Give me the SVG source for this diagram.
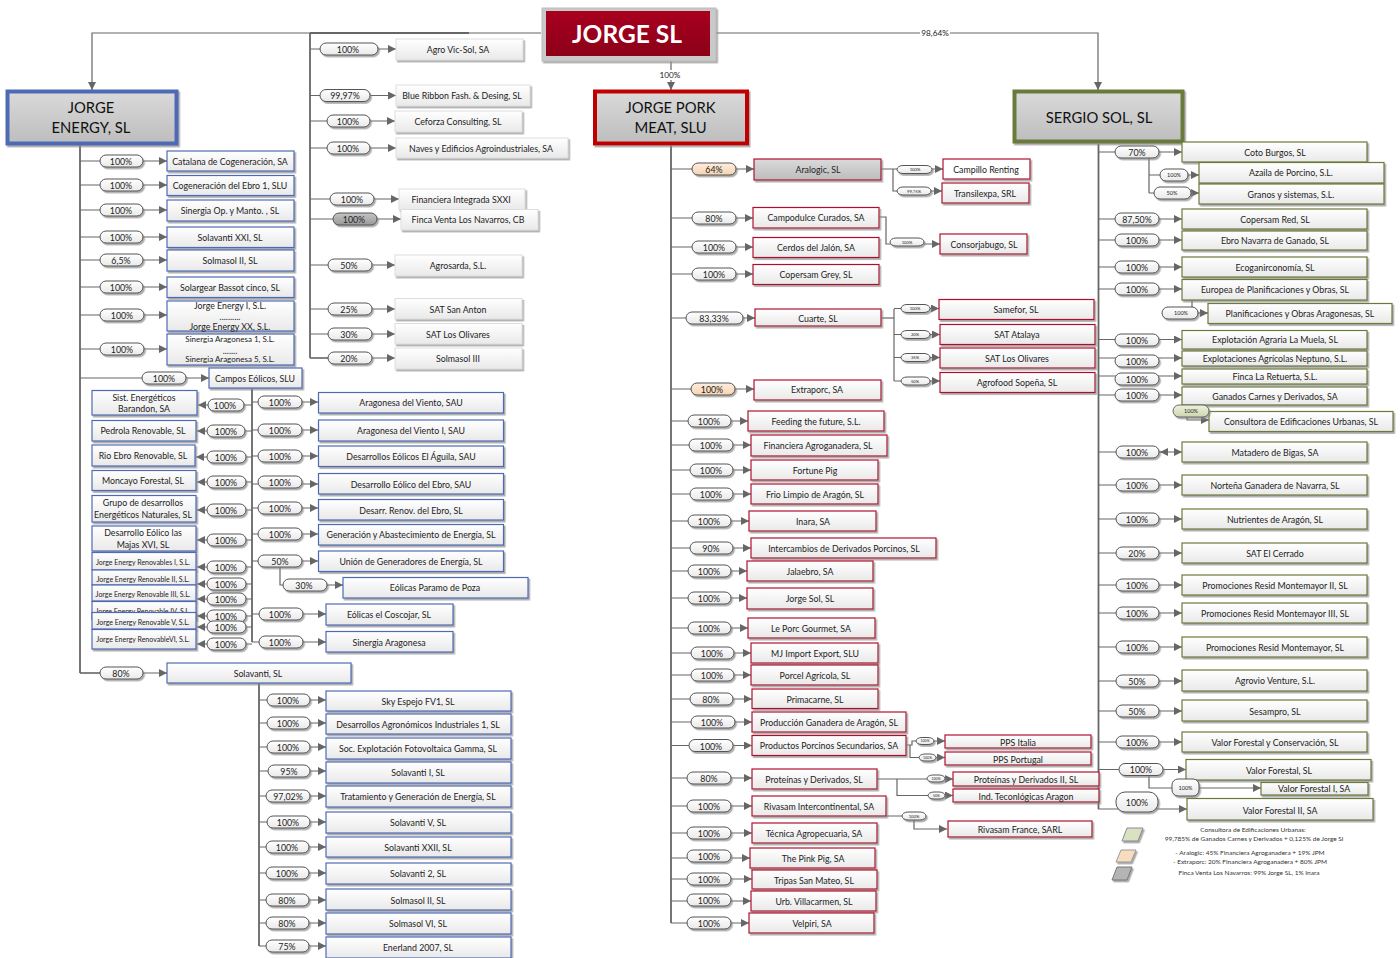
<svg xmlns="http://www.w3.org/2000/svg" width="1400" height="958" viewBox="0 0 1400 958">
<style>
text{font-family:Lato,"Liberation Sans",sans-serif;fill:#222;text-anchor:middle;dominant-baseline:central}
.t{font-size:8.8px}
.k{font-size:4.2px}
.m{font-size:7px}
.v{font-size:8.200px}
.l{font-size:6.500px;fill:#333}
.h{font-size:14.800px;fill:#111}
rect,polygon{filter:url(#s)}
.p{fill:url(#w);stroke:#555;stroke-width:1;rx:6px}
.pk{fill:url(#pe);stroke:#555;stroke-width:1;rx:6px}
.pg{fill:url(#gr);stroke:#555;stroke-width:1;rx:6px}
.po{fill:url(#ol);stroke:#666;stroke-width:1;rx:6px}
.b{fill:url(#w);stroke:#4f6bb5;stroke-width:1.2}
.r{fill:url(#w);stroke:#b0102f;stroke-width:1.2}
.o{fill:url(#w);stroke:#6b7a3a;stroke-width:1.2}
.n{fill:url(#w);stroke:#ddd;stroke-width:1}
.hd{fill:url(#gr2);stroke-width:4}
#c path{fill:none;stroke:#666;stroke-width:1.2}
#c .a{marker-end:url(#ar)}
#c .f{stroke-width:1.8}
</style>
<defs>
<linearGradient id="w" x1="0" y1="0" x2="0" y2="1"><stop offset="0" stop-color="#fff"/><stop offset="1" stop-color="#e9e9e9"/></linearGradient>
<linearGradient id="gr" x1="0" y1="0" x2="0" y2="1"><stop offset="0" stop-color="#c4c4c4"/><stop offset="1" stop-color="#9a9a9a"/></linearGradient>
<linearGradient id="gr2" x1="0" y1="0" x2="0" y2="1"><stop offset="0" stop-color="#dadada"/><stop offset="1" stop-color="#bdbdbd"/></linearGradient>
<linearGradient id="pe" x1="0" y1="0" x2="0" y2="1"><stop offset="0" stop-color="#fdeee0"/><stop offset="1" stop-color="#f7d3b0"/></linearGradient>
<linearGradient id="ol" x1="0" y1="0" x2="0" y2="1"><stop offset="0" stop-color="#eef2df"/><stop offset="1" stop-color="#cdd6ae"/></linearGradient>
<linearGradient id="rd" x1="0" y1="0" x2="0" y2="1"><stop offset="0" stop-color="#a8001f"/><stop offset="1" stop-color="#8c0018"/></linearGradient>
<filter id="s" x="-10%" y="-20%" width="125%" height="150%"><feDropShadow dx="1.5" dy="1.8" stdDeviation="0.7" flood-color="#888" flood-opacity=".7"/></filter>
<marker id="ar" markerUnits="userSpaceOnUse" markerWidth="9" markerHeight="9" refX="8" refY="4" orient="auto"><path d="M0 0L8 4L0 8z" fill="#666"/></marker>
</defs>

<g id="c">
<path class="a" d="M541 33H92V90"/>
<path class="f" d="M310 33H469"/>
<path class="a" d="M716 33H1098V90"/>
<path class="a" d="M671 61V90"/>
<path class="f" d="M80 145V673"/><path d="M80 673H100"/>
<path class="f" d="M310 33V358"/><path d="M310 358H328"/>
<path class="f" d="M671 144V923"/>
<path class="f" d="M1098.500 144V809"/>
<path class="f" d="M252 388V642"/>
<path class="f" d="M259 683V946"/>
<path class="a" d="M80 161H167"/><path class="a" d="M80 185H167"/><path class="a" d="M80 210H167"/><path class="a" d="M80 237H167"/><path class="a" d="M80 260H167"/><path class="a" d="M80 287H167"/><path class="a" d="M80 315H167"/><path class="a" d="M80 349H167"/><path class="a" d="M80 378H209"/><path class="a" d="M80 673H167"/>
<path class="a" d="M310 49H396"/><path class="a" d="M310 95.500H396"/><path class="a" d="M310 121H395"/><path class="a" d="M310 148H396"/><path class="a" d="M310 199H399"/><path class="a" d="M310 219H401"/><path class="a" d="M310 265H395"/><path class="a" d="M310 309H395"/><path class="a" d="M310 334H395"/><path class="a" d="M310 358H395"/>
<path class="a" d="M252 405H198"/><path class="a" d="M252 431H197"/><path class="a" d="M252 457H196"/><path class="a" d="M252 482H197"/><path class="a" d="M252 510H197"/><path class="a" d="M252 540H197"/><path class="a" d="M252 567H197"/><path class="a" d="M252 584H197"/><path class="a" d="M252 599H197"/><path class="a" d="M252 616H197"/><path class="a" d="M252 627H197"/><path class="a" d="M252 644H197"/>
<path class="a" d="M252 402H318"/><path class="a" d="M252 430H318"/><path class="a" d="M252 456H318"/><path class="a" d="M252 484H318"/><path class="a" d="M252 508H318"/><path class="a" d="M252 534H318"/><path class="a" d="M252 561H318"/><path class="a" d="M280 567V585H343"/><path class="a" d="M252 614H326"/><path class="a" d="M252 642H326"/>
<path class="a" d="M259 700H326"/><path class="a" d="M259 723H326"/><path class="a" d="M259 747H326"/><path class="a" d="M259 771H326"/><path class="a" d="M259 796H326"/><path class="a" d="M259 822H326"/><path class="a" d="M259 847H326"/><path class="a" d="M259 873H326"/><path class="a" d="M259 900H326"/><path class="a" d="M259 923H326"/><path class="a" d="M259 946H326"/>
<path class="a" d="M671 169H754"/><path class="a" d="M881 169H943"/><path class="a" d="M893 169V191H942"/>
<path class="a" d="M671 218H753"/><path class="a" d="M879 217H886V244H940"/><path class="a" d="M671 247H753"/><path class="a" d="M671 274H753"/>
<path class="a" d="M671 318H755"/><path d="M881 318H894"/><path d="M894 309V381"/><path class="a" d="M894 308.500H939"/><path class="a" d="M894 334.500H940"/><path class="a" d="M894 357.500H940"/><path class="a" d="M894 381H940"/>
<path class="a" d="M671 389H754"/><path class="a" d="M671 421H748"/><path class="a" d="M671 445H751"/><path class="a" d="M671 470H751"/><path class="a" d="M671 494H751"/><path class="a" d="M671 521H749"/><path class="a" d="M671 548H751"/><path class="a" d="M671 571H747"/><path class="a" d="M671 598H747"/><path class="a" d="M671 628H748"/><path class="a" d="M671 653H751"/><path class="a" d="M671 675H751"/><path class="a" d="M671 699H752"/><path class="a" d="M671 722H752"/><path class="a" d="M671 745.500H752"/>
<path class="a" d="M906 745H912V741H945"/><path class="a" d="M910 745V757.500H945"/>
<path class="a" d="M671 778H752"/><path class="a" d="M877 779H953"/><path class="a" d="M897 779V795.500H953"/>
<path class="a" d="M671 806H752"/><path class="a" d="M886 816H914V829H947"/>
<path class="a" d="M671 833H752"/><path class="a" d="M671 858H750"/><path class="a" d="M671 879H752"/><path class="a" d="M671 901H751"/><path class="a" d="M671 923H749"/>
<path class="a" d="M1098 152H1182"/><path d="M1149 158V193"/><path class="a" d="M1149 175H1199"/><path class="a" d="M1149 193H1199"/>
<path class="a" d="M1098 219H1182"/><path class="a" d="M1098 240H1182"/><path class="a" d="M1098 267H1182"/><path class="a" d="M1098 289H1182"/>
<path d="M1192 300V307"/><path class="a" d="M1190 313H1208"/>
<path class="a" d="M1098 339.500H1182"/><path class="a" d="M1098 358H1182"/><path class="a" d="M1098 376H1182"/><path class="a" d="M1098 395H1182"/>
<path class="a" d="M1187 416V420H1209"/>
<path class="a" d="M1098 452H1182"/><path class="a" d="M1168 452H1160"/>
<path class="a" d="M1098 485H1182"/><path class="a" d="M1098 519H1182"/><path class="a" d="M1098 553H1182"/><path class="a" d="M1098 585H1182"/><path class="a" d="M1098 613H1182"/><path class="a" d="M1098 647H1182"/><path class="a" d="M1098 681H1182"/><path class="a" d="M1098 711H1182"/><path class="a" d="M1098 742H1182"/>
<path class="a" d="M1098 769.500H1186"/><path class="a" d="M1149 775V788H1261"/><path class="a" d="M1098 809H1187"/>
</g>
<rect x="920" y="28" width="30" height="10" fill="#fff" style="filter:none"/>
<text class="v" x="935" y="33">98,64%</text>
<rect x="659" y="70" width="23" height="10" fill="#fff" style="filter:none"/>
<text class="v" x="670" y="75">100%</text>

<g id="jorge-sl"><rect x="542" y="8" width="174" height="53" fill="#c9c9c9" stroke="#bbb"/><rect x="546" y="11" width="164" height="45" fill="url(#rd)" style="filter:none"/><text x="627" y="33" style="font-size:24.500px;font-weight:700;fill:#fff">JORGE SL</text></g>
<g id="jorge-energy"><rect class="hd" x="7.500" y="91.500" width="169" height="52" stroke="#4f6bb5"/><text class="h" x="91" y="107">JORGE</text><text class="h" x="91" y="127">ENERGY, SL</text></g>
<g id="jorge-pork"><rect class="hd" x="595" y="91.500" width="152" height="52" stroke="#c00000"/><text class="h" x="670.500" y="107">JORGE PORK</text><text class="h" x="670.500" y="127">MEAT, SLU</text></g>
<g id="sergio-sol"><rect class="hd" x="1014.500" y="91.500" width="168" height="50" stroke="#6b7a3a"/><text class="h" x="1099" y="117">SERGIO SOL, SL</text></g>

<g id="e1"><rect class="p" x="100" y="155" width="43" height="12"/><text class="t" x="121" y="161">100%</text><rect class="b" x="167" y="151" width="127" height="20"/><text class="t" x="230" y="161">Catalana de Cogeneración, SA</text></g>
<g id="e2"><rect class="p" x="100" y="179" width="43" height="12"/><text class="t" x="121" y="185">100%</text><rect class="b" x="167" y="175.500" width="127" height="20"/><text class="t" x="230" y="185">Cogeneración del Ebro 1, SLU</text></g>
<g id="e3"><rect class="p" x="100" y="204" width="43" height="12"/><text class="t" x="121" y="210">100%</text><rect class="b" x="167" y="200" width="127" height="21"/><text class="t" x="230" y="210">Sinergia Op. y Manto. , SL</text></g>
<g id="e4"><rect class="p" x="100" y="231" width="43" height="12"/><text class="t" x="121" y="237">100%</text><rect class="b" x="167" y="227" width="127" height="20.500"/><text class="t" x="230" y="237">Solavanti XXI, SL</text></g>
<g id="e5"><rect class="p" x="100" y="254" width="43" height="12"/><text class="t" x="121" y="260">6,5%</text><rect class="b" x="167" y="250" width="127" height="21"/><text class="t" x="230" y="260">Solmasol II, SL</text></g>
<g id="e6"><rect class="p" x="100" y="281" width="43" height="12"/><text class="t" x="121" y="287">100%</text><rect class="b" x="167" y="277" width="127" height="20.500"/><text class="t" x="230" y="287">Solargear Bassot cinco, SL</text></g>
<g id="e7"><rect class="p" x="100" y="309" width="44" height="12"/><text class="t" x="122" y="315">100%</text><rect class="b" x="167" y="301" width="127" height="30"/><text class="t" x="230" y="305">Jorge Energy I, S.L.</text><text class="t" x="230" y="316">..........</text><text class="t" x="230" y="326">Jorge Energy XX, S.L.</text></g>
<g id="e8"><rect class="p" x="100" y="343" width="44" height="12"/><text class="t" x="122" y="349">100%</text><rect class="b" x="167" y="334" width="127" height="31"/><text class="t" style="font-size:8px" x="230" y="339">Sinergia Aragonesa 1, S.L.</text><text class="t" x="230" y="350">.......</text><text class="t" style="font-size:8px" x="230" y="359">Sinergia Aragonesa 5, S.L.</text></g>
<g id="campos"><rect class="p" x="142" y="372" width="44" height="12"/><text class="t" x="164" y="378">100%</text><rect class="b" x="209" y="368" width="93" height="20"/><text class="t" x="255" y="378">Campos Eólicos, SLU</text></g>
<g id="solavanti"><rect class="p" x="100" y="667" width="43" height="12"/><text class="t" x="121" y="673">80%</text><rect class="b" x="167" y="663" width="184" height="20"/><text class="t" x="258" y="673">Solavanti, SL</text></g>

<g id="l1"><rect class="b" x="92" y="390.500" width="105" height="24.500"/><text class="t" x="144" y="397">Sist. Energéticos</text><text class="t" x="144" y="408">Barandon, SA</text><rect class="p" x="208" y="399" width="36" height="12"/><text class="t" x="225" y="405">100%</text></g>
<g id="l2"><rect class="b" x="92" y="420.500" width="104" height="20.500"/><text class="t" x="143" y="430">Pedrola Renovable, SL</text><rect class="p" x="207" y="425" width="38" height="12"/><text class="t" x="226" y="431">100%</text></g>
<g id="l3"><rect class="b" x="92" y="445" width="103" height="21"/><text class="t" x="143" y="455">Rio Ebro Renovable, SL</text><rect class="p" x="207" y="451" width="39" height="12"/><text class="t" x="226" y="457">100%</text></g>
<g id="l4"><rect class="b" x="92" y="470.500" width="104" height="20"/><text class="t" x="143" y="480">Moncayo Forestal, SL</text><rect class="p" x="207" y="476" width="39" height="12"/><text class="t" x="226" y="482">100%</text></g>
<g id="l5"><rect class="b" x="92" y="495.500" width="104" height="26.500"/><text class="t" x="143" y="502">Grupo de desarrollos</text><text class="t" x="143" y="514">Energéticos Naturales, SL</text><rect class="p" x="207" y="504" width="39" height="12"/><text class="t" x="226" y="510">100%</text></g>
<g id="l6"><rect class="b" x="92" y="526" width="104" height="25"/><text class="t" x="143" y="532">Desarrollo Eólico las</text><text class="t" x="143" y="544">Majas XVI, SL</text><rect class="p" x="207" y="534" width="39" height="12"/><text class="t" x="226" y="540">100%</text></g>
<g id="l7"><rect class="b" x="92" y="552.500" width="104" height="17.500"/><text class="m" x="143" y="562">Jorge Energy Renovables I, S.L.</text><rect class="p" x="207" y="561" width="39" height="12"/><text class="t" x="226" y="567">100%</text></g>
<g id="l8"><rect class="b" x="92" y="570" width="104" height="15"/><text class="m" x="143" y="579">Jorge Energy Renovable II, S.L.</text></g>
<g id="l9"><rect class="b" x="92" y="585" width="104" height="16"/><text class="m" x="143" y="594">Jorge Energy Renovable III, S.L.</text></g>
<g id="l10"><rect class="b" x="92" y="601.500" width="104" height="18"/><text class="m" x="143" y="611">Jorge Energy Renovable IV, S.L.</text></g>
<g id="l11"><rect class="b" x="92" y="612.500" width="104" height="16.500"/><text class="m" x="143" y="622">Jorge Energy Renovable V, S.L.</text></g>
<g id="l12"><rect class="b" x="92" y="629.500" width="104" height="19.500"/><text class="m" x="143" y="639">Jorge Energy RenovableVI, S.L.</text></g>
<g id="lp"><rect class="p" x="207" y="578" width="39" height="12"/><text class="t" x="226" y="584">100%</text><rect class="p" x="207" y="593" width="39" height="12"/><text class="t" x="226" y="599">100%</text><rect class="p" x="207" y="610" width="39" height="12"/><text class="t" x="226" y="616">100%</text><rect class="p" x="207" y="621" width="39" height="12"/><text class="t" x="226" y="627">100%</text><rect class="p" x="207" y="638" width="39" height="12"/><text class="t" x="226" y="644">100%</text></g>

<g id="a1"><rect class="p" x="258" y="396" width="44" height="12"/><text class="t" x="280" y="402">100%</text><rect class="b" x="318.500" y="392.500" width="185" height="20.500"/><text class="t" x="411" y="402">Aragonesa del Viento, SAU</text></g>
<g id="a2"><rect class="p" x="258" y="424" width="44" height="12"/><text class="t" x="280" y="430">100%</text><rect class="b" x="318.500" y="420" width="185" height="21"/><text class="t" x="411" y="430">Aragonesa del Viento I, SAU</text></g>
<g id="a3"><rect class="p" x="258" y="450" width="44" height="12"/><text class="t" x="280" y="456">100%</text><rect class="b" x="318.500" y="446" width="185" height="20.500"/><text class="t" x="411" y="456">Desarrollos Eólicos El Águila, SAU</text></g>
<g id="a4"><rect class="p" x="258" y="476" width="44" height="12"/><text class="t" x="280" y="482">100%</text><rect class="b" x="318.500" y="473.500" width="185" height="20.500"/><text class="t" x="411" y="484">Desarrollo Eólico del Ebro, SAU</text></g>
<g id="a5"><rect class="p" x="258" y="502" width="44" height="12"/><text class="t" x="280" y="508">100%</text><rect class="b" x="318.500" y="499.500" width="185" height="20.500"/><text class="t" x="411" y="510">Desarr. Renov. del Ebro, SL</text></g>
<g id="a6"><rect class="p" x="258" y="528" width="44" height="12"/><text class="t" x="280" y="534">100%</text><rect class="b" x="318.500" y="524.500" width="185" height="20.500"/><text class="t" x="411" y="534">Generación y Abastecimiento de Energía, SL</text></g>
<g id="a7"><rect class="p" x="258" y="555" width="44" height="12"/><text class="t" x="280" y="561">50%</text><rect class="b" x="318.500" y="551" width="185" height="20.500"/><text class="t" x="411" y="561">Unión de Generadores de Energía, SL</text></g>
<g id="a8"><rect class="p" x="283" y="579" width="44" height="12"/><text class="t" x="304" y="585">30%</text><rect class="b" x="343" y="577.500" width="185" height="20.500"/><text class="t" x="435" y="587">Eólicas Paramo de Poza</text></g>
<g id="a9"><rect class="p" x="259" y="608" width="44" height="12"/><text class="t" x="280" y="614">100%</text><rect class="b" x="326" y="604" width="127" height="21"/><text class="t" x="389" y="614">Eólicas el Coscojar, SL</text></g>
<g id="a10"><rect class="p" x="259" y="636" width="44" height="12"/><text class="t" x="280" y="642">100%</text><rect class="b" x="326" y="631.500" width="127" height="20.500"/><text class="t" x="389" y="642">Sinergia Aragonesa</text></g>

<g id="s1"><rect class="p" x="267" y="694" width="43" height="12"/><text class="t" x="288" y="700">100%</text><rect class="b" x="326" y="691" width="185" height="20"/><text class="t" x="418" y="701">Sky Espejo FV1, SL</text></g>
<g id="s2"><rect class="p" x="267" y="717" width="43" height="12"/><text class="t" x="288" y="723">100%</text><rect class="b" x="326" y="714" width="185" height="20"/><text class="t" x="418" y="724">Desarrollos Agronómicos Industriales 1, SL</text></g>
<g id="s3"><rect class="p" x="267" y="741" width="43" height="12"/><text class="t" x="288" y="747">100%</text><rect class="b" x="326" y="738" width="185" height="21"/><text class="t" x="418" y="748">Soc. Explotación Fotovoltaica Gamma, SL</text></g>
<g id="s4"><rect class="p" x="268" y="765" width="42" height="12"/><text class="t" x="289" y="771">95%</text><rect class="b" x="326" y="762" width="185" height="21"/><text class="t" x="418" y="772">Solavanti I, SL</text></g>
<g id="s5"><rect class="p" x="266" y="790" width="44" height="12"/><text class="t" x="288" y="796">97,02%</text><rect class="b" x="326" y="786" width="185" height="21"/><text class="t" x="418" y="796">Tratamiento y Generación de Energía, SL</text></g>
<g id="s6"><rect class="p" x="267" y="816" width="43" height="12"/><text class="t" x="288" y="822">100%</text><rect class="b" x="326" y="812" width="185" height="21"/><text class="t" x="418" y="822">Solavanti V, SL</text></g>
<g id="s7"><rect class="p" x="266" y="841" width="43" height="12"/><text class="t" x="287" y="847">100%</text><rect class="b" x="326" y="837" width="185" height="20"/><text class="t" x="418" y="847">Solavanti XXII, SL</text></g>
<g id="s8"><rect class="p" x="266" y="867" width="43" height="12"/><text class="t" x="287" y="873">100%</text><rect class="b" x="326" y="863" width="185" height="21"/><text class="t" x="418" y="873">Solavanti 2, SL</text></g>
<g id="s9"><rect class="p" x="266" y="894" width="43" height="12"/><text class="t" x="287" y="900">80%</text><rect class="b" x="326" y="889" width="185" height="21"/><text class="t" x="418" y="900">Solmasol II, SL</text></g>
<g id="s10"><rect class="p" x="266" y="917" width="43" height="12"/><text class="t" x="287" y="923">80%</text><rect class="b" x="326" y="913" width="185" height="21"/><text class="t" x="418" y="923">Solmasol VI, SL</text></g>
<g id="s11"><rect class="p" x="266" y="940" width="43" height="12"/><text class="t" x="287" y="946">75%</text><rect class="b" x="326" y="937" width="185" height="21"/><text class="t" x="418" y="947">Enerland 2007, SL</text></g>

<g id="m1"><rect class="p" x="320" y="43" width="58" height="12"/><text class="t" x="348" y="49">100%</text><rect class="n" x="396" y="39" width="127" height="21"/><text class="t" x="458" y="49">Agro Vic-Sol, SA</text></g>
<g id="m2"><rect class="p" x="320" y="89.500" width="50" height="12"/><text class="t" x="345" y="95.500">99,97%</text><rect class="n" x="396" y="85" width="134" height="21"/><text class="t" x="462" y="95.500">Blue Ribbon Fash. &amp; Desing, SL</text></g>
<g id="m3"><rect class="p" x="327" y="115" width="43" height="12"/><text class="t" x="348" y="121">100%</text><rect class="n" x="395" y="111" width="127" height="21"/><text class="t" x="458" y="121">Ceforza Consulting, SL</text></g>
<g id="m4"><rect class="p" x="327" y="142" width="43" height="12"/><text class="t" x="348" y="148">100%</text><rect class="n" x="396" y="138" width="172" height="20"/><text class="t" x="481" y="148">Naves y Edificios Agroindustriales, SA</text></g>
<g id="m5"><rect class="p" x="330" y="193" width="44" height="12"/><text class="t" x="352" y="199">100%</text><rect class="n" x="399" y="189" width="126" height="21"/><text class="t" x="461" y="199">Financiera Integrada SXXI</text></g>
<g id="m6"><rect class="pg" x="333" y="213" width="44" height="12"/><text class="t" x="354" y="219">100%</text><rect class="n" x="401" y="209.500" width="137" height="20.500"/><text class="t" x="468" y="219">Finca Venta Los Navarros, CB</text></g>
<g id="m7"><rect class="p" x="328" y="259" width="44" height="12"/><text class="t" x="349" y="265">50%</text><rect class="n" x="395" y="255" width="127" height="21"/><text class="t" x="458" y="265">Agrosarda, S.L.</text></g>
<g id="m8"><rect class="p" x="328" y="303" width="44" height="12"/><text class="t" x="349" y="309">25%</text><rect class="n" x="395" y="298.500" width="127" height="20.500"/><text class="t" x="458" y="309">SAT San Anton</text></g>
<g id="m9"><rect class="p" x="328" y="328" width="44" height="12"/><text class="t" x="349" y="334">30%</text><rect class="n" x="395" y="323.500" width="127" height="20.500"/><text class="t" x="458" y="334">SAT Los Olivares</text></g>
<g id="m10"><rect class="p" x="328" y="352" width="44" height="12"/><text class="t" x="349" y="358">20%</text><rect class="n" x="395" y="348" width="127" height="21"/><text class="t" x="458" y="358">Solmasol III</text></g>

<g id="p1"><rect class="pk" x="692" y="163" width="44" height="12"/><text class="t" x="714" y="169">64%</text><rect class="r" style="fill:url(#gr2)" x="754" y="159" width="127" height="21"/><text class="t" x="818" y="169">Aralogic, SL</text></g>
<g id="p1a"><rect class="p" x="897" y="165.500" width="35" height="8"/><text class="k" x="915" y="169.500">100%</text><rect class="r" style="fill:#fff" x="943" y="159" width="87" height="20"/><text class="t" x="986" y="169">Campillo Renting</text></g>
<g id="p1b"><rect class="p" x="897" y="187" width="34" height="8"/><text class="k" x="914" y="191">99,75%</text><rect class="r" x="942" y="183" width="87" height="20"/><text class="t" x="985" y="193">Transilexpa, SRL</text></g>
<g id="p2"><rect class="p" x="692" y="212" width="44" height="12"/><text class="t" x="714" y="218">80%</text><rect class="r" x="753" y="207.500" width="126" height="20.500"/><text class="t" x="816" y="217">Campodulce Curados, SA</text></g>
<g id="p2a"><rect class="p" x="890" y="238" width="34" height="8"/><text class="k" x="907" y="242">100%</text><rect class="r" x="940" y="234" width="87" height="20"/><text class="t" x="984" y="244">Consorjabugo, SL</text></g>
<g id="p3"><rect class="p" x="692" y="241" width="44" height="12"/><text class="t" x="714" y="247">100%</text><rect class="r" x="753" y="237.500" width="126" height="20"/><text class="t" x="816" y="247">Cerdos del Jalón, SA</text></g>
<g id="p4"><rect class="p" x="692" y="268" width="44" height="12"/><text class="t" x="714" y="274">100%</text><rect class="r" x="753" y="264.500" width="126" height="20"/><text class="t" x="816" y="274">Copersam Grey, SL</text></g>
<g id="p5"><rect class="p" x="686" y="312" width="57" height="12"/><text class="t" x="714" y="318">83,33%</text><rect class="r" x="755" y="309" width="126" height="17"/><text class="t" x="818" y="318">Cuarte, SL</text></g>
<g id="p5a"><rect class="p" x="901" y="304.500" width="29" height="8"/><text class="k" x="915" y="308.500">100%</text><rect class="r" x="939" y="299.500" width="155" height="20"/><text class="t" x="1016" y="309">Samefor, SL</text></g>
<g id="p5b"><rect class="p" x="901" y="330.500" width="29" height="8"/><text class="k" x="915" y="334.500">20%</text><rect class="r" x="940" y="324.500" width="155" height="20"/><text class="t" x="1017" y="334">SAT Atalaya</text></g>
<g id="p5c"><rect class="p" x="901" y="353.500" width="29" height="8"/><text class="k" x="915" y="357.500">35%</text><rect class="r" x="940" y="348" width="155" height="20"/><text class="t" x="1017" y="358">SAT Los Olivares</text></g>
<g id="p5d"><rect class="p" x="901" y="377" width="29" height="8"/><text class="k" x="915" y="381">50%</text><rect class="r" x="940" y="372.500" width="155" height="20"/><text class="t" x="1017" y="382">Agrofood Sopeña, SL</text></g>
<g id="p6"><rect class="pk" x="691" y="383" width="44" height="12"/><text class="t" x="712" y="389">100%</text><rect class="r" x="754" y="380" width="127" height="20"/><text class="t" x="817" y="389">Extraporc, SA</text></g>
<g id="p7"><rect class="p" x="688" y="415" width="43" height="12"/><text class="t" x="709" y="421">100%</text><rect class="r" x="748" y="411" width="136" height="20"/><text class="t" x="816" y="421">Feeding the future, S.L.</text></g>
<g id="p8"><rect class="p" x="689" y="439" width="44" height="12"/><text class="t" x="711" y="445">100%</text><rect class="r" x="751" y="435" width="136" height="21"/><text class="t" x="818" y="445">Financiera Agroganadera, SL</text></g>
<g id="p9"><rect class="p" x="690" y="464" width="43" height="12"/><text class="t" x="711" y="470">100%</text><rect class="r" x="751" y="460" width="127" height="20"/><text class="t" x="815" y="470">Fortune Pig</text></g>
<g id="p10"><rect class="p" x="690" y="488" width="43" height="12"/><text class="t" x="711" y="494">100%</text><rect class="r" x="751" y="484" width="127" height="20"/><text class="t" x="815" y="494">Frio Limpio de Aragón, SL</text></g>
<g id="p11"><rect class="p" x="688" y="515" width="43" height="12"/><text class="t" x="709" y="521">100%</text><rect class="r" x="749" y="511" width="127" height="20"/><text class="t" x="813" y="521">Inara, SA</text></g>
<g id="p12"><rect class="p" x="690" y="542" width="43" height="12"/><text class="t" x="711" y="548">90%</text><rect class="r" x="751" y="538" width="185" height="20"/><text class="t" x="844" y="548">Intercambios de Derivados Porcinos, SL</text></g>
<g id="p13"><rect class="p" x="688" y="565" width="43" height="12"/><text class="t" x="709" y="571">100%</text><rect class="r" x="747" y="561" width="126" height="20"/><text class="t" x="810" y="571">Jalaebro, SA</text></g>
<g id="p14"><rect class="p" x="688" y="592" width="43" height="12"/><text class="t" x="709" y="598">100%</text><rect class="r" x="747" y="588" width="126" height="21"/><text class="t" x="810" y="598">Jorge Sol, SL</text></g>
<g id="p15"><rect class="p" x="688" y="622" width="43" height="12"/><text class="t" x="709" y="628">100%</text><rect class="r" x="748" y="618" width="127" height="20"/><text class="t" x="811" y="628">Le Porc Gourmet, SA</text></g>
<g id="p16"><rect class="p" x="691" y="647" width="43" height="12"/><text class="t" x="712" y="653">100%</text><rect class="r" x="751" y="643" width="127" height="20"/><text class="t" x="815" y="653">MJ Import Export, SLU</text></g>
<g id="p17"><rect class="p" x="691" y="669" width="43" height="12"/><text class="t" x="712" y="675">100%</text><rect class="r" x="751" y="665" width="127" height="20"/><text class="t" x="815" y="675">Porcel Agrícola, SL</text></g>
<g id="p18"><rect class="p" x="690" y="693" width="43" height="12"/><text class="t" x="711" y="699">80%</text><rect class="r" x="752" y="689" width="126" height="19.500"/><text class="t" x="815" y="699">Primacarne, SL</text></g>
<g id="p19"><rect class="p" x="691" y="716" width="44" height="12"/><text class="t" x="712" y="722">100%</text><rect class="r" x="752" y="712" width="154" height="20"/><text class="t" x="829" y="722">Producción Ganadera de Aragón, SL</text></g>
<g id="p20"><rect class="p" x="689" y="739.500" width="44" height="12"/><text class="t" x="711" y="746">100%</text><rect class="r" x="752" y="735.500" width="154" height="20"/><text class="t" x="829" y="745">Productos Porcinos Secundarios, SA</text></g>
<g id="p20a"><rect class="p" x="916" y="737.500" width="18" height="7"/><text class="k" style="font-size:3.500px" x="925" y="741">100%</text><rect class="r" x="945" y="735" width="146" height="13"/><text class="t" x="1018" y="742">PPS Italia</text></g>
<g id="p20b"><rect class="p" x="919" y="754" width="17" height="7"/><text class="k" style="font-size:3.500px" x="927.500" y="757.500">100%</text><rect class="r" x="945" y="752" width="146" height="13"/><text class="t" x="1018" y="759">PPS Portugal</text></g>
<g id="p21"><rect class="p" x="687" y="772" width="44" height="12"/><text class="t" x="709" y="778">80%</text><rect class="r" x="752" y="769" width="125" height="20"/><text class="t" x="814" y="779">Proteínas y Derivados, SL</text></g>
<g id="p21a"><rect class="p" x="927" y="775" width="18" height="7"/><text class="k" style="font-size:3.500px" x="936" y="778.500">100%</text><rect class="r" x="953" y="772" width="146" height="14"/><text class="t" x="1026" y="779">Proteínas y Derivados II, SL</text></g>
<g id="p21b"><rect class="p" x="928" y="792" width="17" height="7"/><text class="k" style="font-size:3.500px" x="936.500" y="795.500">50%</text><rect class="r" x="953" y="789" width="146" height="13"/><text class="t" x="1026" y="796">Ind. Teconlógicas Aragon</text></g>
<g id="p22"><rect class="p" x="687" y="800" width="44" height="12"/><text class="t" x="709" y="806">100%</text><rect class="r" x="752" y="796" width="134" height="20"/><text class="t" x="819" y="806">Rivasam Intercontinental, SA</text></g>
<g id="p22a"><rect class="p" x="902" y="812" width="24" height="8"/><text class="k" x="914" y="816">100%</text><rect class="r" x="948" y="821" width="144" height="16"/><text class="t" x="1020" y="829">Rivasam France, SARL</text></g>
<g id="p23"><rect class="p" x="687" y="827" width="44" height="12"/><text class="t" x="709" y="833">100%</text><rect class="r" x="752" y="823" width="125" height="20"/><text class="t" x="814" y="833">Técnica Agropecuaria, SA</text></g>
<g id="p24"><rect class="p" x="687" y="850" width="44" height="12"/><text class="t" x="709" y="856">100%</text><rect class="r" x="750" y="848" width="125" height="20"/><text class="t" x="813" y="858">The Pink Pig, SA</text></g>
<g id="p25"><rect class="p" x="687" y="873" width="44" height="12"/><text class="t" x="709" y="879">100%</text><rect class="r" x="752" y="870" width="125" height="19"/><text class="t" x="814" y="880">Tripas San Mateo, SL</text></g>
<g id="p26"><rect class="p" x="687" y="894" width="44" height="12"/><text class="t" x="709" y="900">100%</text><rect class="r" x="751" y="891" width="125" height="20"/><text class="t" x="814" y="901">Urb. Villacarmen, SL</text></g>
<g id="p27"><rect class="p" x="687" y="917" width="44" height="12"/><text class="t" x="709" y="923">100%</text><rect class="r" x="749" y="913" width="125" height="20"/><text class="t" x="812" y="923">Velpiri, SA</text></g>

<g id="r1"><rect class="p" x="1115" y="146" width="44" height="12"/><text class="t" x="1137" y="152">70%</text><rect class="o" x="1182" y="142" width="185" height="20"/><text class="t" x="1275" y="152">Coto Burgos, SL</text></g>
<g id="r1a"><rect class="p" x="1160" y="169" width="28" height="12"/><text class="m" x="1174" y="175" style="font-size:5.500px">100%</text><rect class="o" x="1199" y="162.500" width="185" height="20.500"/><text class="t" x="1291" y="172">Azaila de Porcino, S.L.</text></g>
<g id="r1b"><rect class="p" x="1154" y="187" width="37" height="12"/><text class="m" x="1172" y="193" style="font-size:5.500px">50%</text><rect class="o" x="1199" y="184" width="185" height="20"/><text class="t" x="1291" y="194">Granos y sistemas, S.L.</text></g>
<g id="r2"><rect class="p" x="1115" y="213" width="44" height="12"/><text class="t" x="1137" y="219">87,50%</text><rect class="o" x="1182" y="209" width="185" height="20"/><text class="t" x="1275" y="219">Copersam Red, SL</text></g>
<g id="r3"><rect class="p" x="1115" y="234" width="44" height="12"/><text class="t" x="1137" y="240">100%</text><rect class="o" x="1182" y="231" width="185" height="19"/><text class="t" x="1275" y="240">Ebro Navarra de Ganado, SL</text></g>
<g id="r4"><rect class="p" x="1115" y="261" width="44" height="12"/><text class="t" x="1137" y="267">100%</text><rect class="o" x="1182" y="257" width="185" height="20"/><text class="t" x="1275" y="267">Ecoganirconomía, SL</text></g>
<g id="r5"><rect class="p" x="1115" y="283" width="44" height="12"/><text class="t" x="1137" y="289">100%</text><rect class="o" x="1182" y="279.500" width="185" height="20.500"/><text class="t" x="1275" y="289">Europea de Planificaciones y Obras, SL</text></g>
<g id="r5a"><rect class="p" x="1162" y="307" width="36" height="12"/><text class="m" x="1181" y="313" style="font-size:5.500px">100%</text><rect class="o" x="1208" y="303.500" width="184" height="20"/><text class="t" x="1300" y="313">Planificaciones y Obras Aragonesas, SL</text></g>
<g id="r6"><rect class="p" x="1115" y="334" width="44" height="12"/><text class="t" x="1137" y="340">100%</text><rect class="o" x="1182" y="330.500" width="185" height="18.500"/><text class="t" x="1275" y="339">Explotación Agraria La Muela, SL</text></g>
<g id="r7"><rect class="p" x="1115" y="355" width="44" height="12"/><text class="t" x="1137" y="361">100%</text><rect class="o" x="1182" y="351" width="185" height="15"/><text class="t" x="1275" y="358">Explotaciones Agrícolas Neptuno, S.L.</text></g>
<g id="r8"><rect class="p" x="1115" y="373" width="44" height="12"/><text class="t" x="1137" y="379">100%</text><rect class="o" x="1182" y="369" width="185" height="15"/><text class="t" x="1275" y="376">Finca La Retuerta, S.L.</text></g>
<g id="r9"><rect class="p" x="1115" y="389" width="44" height="12"/><text class="t" x="1137" y="395">100%</text><rect class="o" x="1182" y="387" width="185" height="18"/><text class="t" x="1275" y="396">Ganados Carnes y Derivados, SA</text></g>
<g id="r9a"><rect class="o" x="1209" y="411.500" width="184" height="20"/><text class="t" x="1301" y="421">Consultora de Edificaciones Urbanas, SL</text><rect class="po" x="1173" y="405" width="36" height="12"/><text class="m" x="1191" y="411" style="font-size:5.500px">100%</text></g>
<g id="r10"><rect class="p" x="1116" y="446" width="43" height="12"/><text class="t" x="1137" y="452">100%</text><rect class="o" x="1182" y="442" width="185" height="20"/><text class="t" x="1275" y="452">Matadero de Bigas, SA</text></g>
<g id="r11"><rect class="p" x="1116" y="479" width="43" height="12"/><text class="t" x="1137" y="485">100%</text><rect class="o" x="1182" y="475" width="185" height="20"/><text class="t" x="1275" y="485">Norteña Ganadera de Navarra, SL</text></g>
<g id="r12"><rect class="p" x="1116" y="513" width="43" height="12"/><text class="t" x="1137" y="519">100%</text><rect class="o" x="1182" y="509" width="185" height="20"/><text class="t" x="1275" y="519">Nutrientes de Aragón, SL</text></g>
<g id="r13"><rect class="p" x="1116" y="547" width="43" height="12"/><text class="t" x="1137" y="553">20%</text><rect class="o" x="1182" y="543" width="185" height="20"/><text class="t" x="1275" y="553">SAT El Cerrado</text></g>
<g id="r14"><rect class="p" x="1116" y="579" width="43" height="12"/><text class="t" x="1137" y="585">100%</text><rect class="o" x="1182" y="575" width="185" height="20"/><text class="t" x="1275" y="585">Promociones Resid Montemayor II, SL</text></g>
<g id="r15"><rect class="p" x="1116" y="607" width="43" height="12"/><text class="t" x="1137" y="613">100%</text><rect class="o" x="1182" y="603" width="185" height="20"/><text class="t" x="1275" y="613">Promociones Resid Montemayor III, SL</text></g>
<g id="r16"><rect class="p" x="1116" y="641" width="43" height="12"/><text class="t" x="1137" y="647">100%</text><rect class="o" x="1182" y="637" width="185" height="20"/><text class="t" x="1275" y="647">Promociones Resid Montemayor, SL</text></g>
<g id="r17"><rect class="p" x="1116" y="675" width="43" height="12"/><text class="t" x="1137" y="681">50%</text><rect class="o" x="1182" y="670" width="185" height="21"/><text class="t" x="1275" y="680">Agrovio Venture, S.L.</text></g>
<g id="r18"><rect class="p" x="1116" y="705" width="43" height="12"/><text class="t" x="1137" y="711">50%</text><rect class="o" x="1182" y="700" width="185" height="21"/><text class="t" x="1275" y="711">Sesampro, SL</text></g>
<g id="r19"><rect class="p" x="1116" y="736" width="43" height="12"/><text class="t" x="1137" y="742">100%</text><rect class="o" x="1182" y="732" width="185" height="20"/><text class="t" x="1275" y="742">Valor Forestal y Conservación, SL</text></g>
<g id="r20"><rect class="p" x="1119" y="763.500" width="44" height="12"/><text class="t" x="1141" y="769.500">100%</text><rect class="o" x="1186" y="759.500" width="185" height="20.500"/><text class="t" x="1279" y="770">Valor Forestal, SL</text></g>
<g id="r20a"><rect class="p" x="1172" y="779" width="27" height="17"/><text class="m" x="1185.500" y="787.500" style="font-size:5.500px">100%</text><rect class="o" x="1261" y="782.500" width="107" height="12.500"/><text class="t" x="1314" y="788">Valor Forestal I, SA</text></g>
<g id="r21"><rect class="p" style="rx:9px" x="1116" y="792" width="42" height="20"/><text class="t" x="1137" y="802">100%</text><rect class="o" x="1187" y="798.500" width="186" height="21.500"/><text class="t" x="1280" y="810">Valor Forestal II, SA</text></g>

<g id="legend">
<polygon points="1127,828 1143,828 1138,841 1122,841" fill="#d8e2c0" stroke="#889"/>
<polygon points="1121,850 1136,850 1131,862 1116,862" fill="#f8dcc0" stroke="#999"/>
<polygon points="1117,867 1132,867 1127,880 1112,880" fill="#b4b4b4" stroke="#777"/>
<text class="l" x="1253" y="829.500">Consultora de Edificaciones Urbanas:</text>
<text class="l" x="1254" y="838">99,785% de Ganados Carnes y Derivados + 0,125% de Jorge Sl</text>
<text class="l" x="1250" y="852.500">- Aralogic: 45% Financiera Agroganadera + 19% JPM</text>
<text class="l" x="1250" y="861">- Extraporc: 20% Financiera Agroganadera + 80% JPM</text>
<text class="l" x="1249" y="872.500">Finca Venta Los Navarros: 99% Jorge SL, 1% Inara</text>
</g>
</svg>
